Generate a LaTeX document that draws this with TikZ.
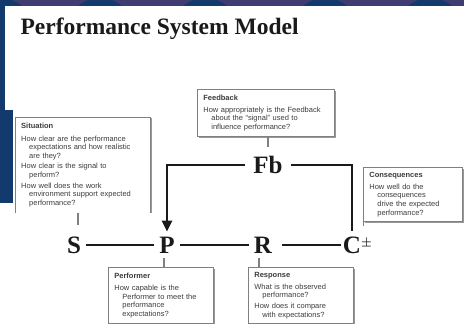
\documentclass[tikz,border=0pt]{standalone}
\usepackage{fontspec}
\setmainfont{Liberation Serif}
\setsansfont{Liberation Sans}
\usetikzlibrary{arrows.meta,positioning,calc,shadows}
\definecolor{BG}{HTML}{123A6C}
\definecolor{BV}{HTML}{3E3C70}
\definecolor{BX}{HTML}{808080}
\definecolor{TX}{HTML}{1A1A1A}

\newcommand{\boxhead}[1]{\textbf{#1}\par\vspace{1.5pt}}
\newcommand{\boxq}[1]{\par\vspace{2pt}\noindent #1\par}
\newcommand{\cont}[1]{\noindent\hspace*{8pt}#1\par}

\tikzset{
    letter/.style={font=\fontsize{25}{25}\selectfont\bfseries, text=TX, inner sep=5pt},
    loopline/.style={line width=2.8pt, draw=TX},
    qtext/.style={anchor=north west, align=left, text=TX!85,
        font=\sffamily\fontsize{7.5}{8.6}\selectfont,
        inner xsep=6pt, inner ysep=4pt},
    qbox/.style={qtext, draw=BX, line width=0.8pt, fill=white,
        drop shadow={shadow xshift=1.2pt, shadow yshift=-1.2pt, fill=BX!80, opacity=1}},
    tick/.style={draw=BX, line width=1.6pt},
}

\begin{document}
\begin{tikzpicture}[x=1pt, y=1pt]
    \useasboundingbox (0,0) rectangle (464,324);
    % slide background
    \fill[BG] (0,0) rectangle (464,324);
    \fill[BV] (0,318) rectangle (464,324);
    \foreach \cx in {0,100,205,325,430}
        \fill[BG] (\cx,292) circle (34);
    \fill[white] (5,0) rectangle (464,318);
    \fill[BG] (5,121) rectangle (13,214);
    \fill[white] (0,0) rectangle (5,121);

    \node[anchor=base west, text=TX, font=\fontsize{23.5}{23.5}\selectfont\bfseries]
        (title) at (17,289) {Performance System Model};

    % the chain
    \node[letter] (s) at (74,79) {S};
    \node[letter] (p) at (167,79) {P};
    \node[letter] (r) at (263,79) {R};
    \node[letter] (c) at (352,79) {C\rlap{\raisebox{7pt}{\fontsize{13}{13}\selectfont\boldmath$\pm$}}};
    \node[letter, inner xsep=8pt] (fb) at (268,159) {Fb};

    \draw[loopline] (s) -- (p);
    \draw[loopline] (p) -- (r);
    \draw[loopline, shorten <=5pt, shorten >=-3pt] (r) -- (c);
    \draw[loopline, -{Triangle[length=11pt, width=10pt]}] (fb) -| (p);
    \draw[loopline] (fb) -| (c);

    % question boxes
    \node[qtext, text width=123pt, minimum height=96pt] (sit) at (15,207) {%
        \boxhead{Situation}%
        \boxq{How clear are the performance}\cont{expectations and how realistic}\cont{are they?}%
        \boxq{How clear is the signal to}\cont{perform?}%
        \boxq{How well does the work}\cont{environment support expected}\cont{performance?}};
    \draw[BX, line width=0.8pt] (sit.south west) |- (sit.north east) -- (sit.south east);
    \draw[BX!80, line width=1.2pt] ([xshift=1.2pt, yshift=-1.2pt]sit.north east) -- ([xshift=1.2pt]sit.south east);

    \node[qbox, text width=125pt, minimum height=47pt] (fbk) at (197,235) {%
        \boxhead{Feedback}%
        \boxq{How appropriately is the Feedback}\cont{about the ``signal'' used to}\cont{influence performance?}};

    \node[qbox, text width=87pt, minimum height=54pt] (cons) at (363,157) {%
        \boxhead{Consequences}%
        \boxq{How well do the}\cont{consequences}\cont{drive the expected}\cont{performance?}};

    \node[qbox, text width=93pt, minimum height=56pt] (perf) at (108,57) {%
        \boxhead{Performer}%
        \boxq{How capable is the}\cont{Performer to meet the}\cont{performance}\cont{expectations?}};

    \node[qbox, text width=93pt, minimum height=56pt] (resp) at (248,57) {%
        \boxhead{Response}%
        \boxq{What is the observed}\cont{performance?}%
        \boxq{How does it compare}\cont{with expectations?}};

    % ties from boxes to letters
    \coordinate (chook) at ($(cons.south west)+(0,-4)$);
    \draw[tick, shorten >=6pt] ([xshift=4pt]s |- sit.south) -- ([xshift=4pt]s.north);
    \draw[tick, shorten >=4.5pt] (fbk.south -| fb) -- (fb.north);
    \draw[tick] ([xshift=-3pt]p.south) -- ([xshift=-3pt]p.south |- perf.north);
    \draw[tick] ([xshift=-4pt]r.south) -- ([xshift=-4pt]r.south |- resp.north);
    \draw[BX, line width=0.8pt] (cons.south west) -- (chook);
\end{tikzpicture}
\end{document}
